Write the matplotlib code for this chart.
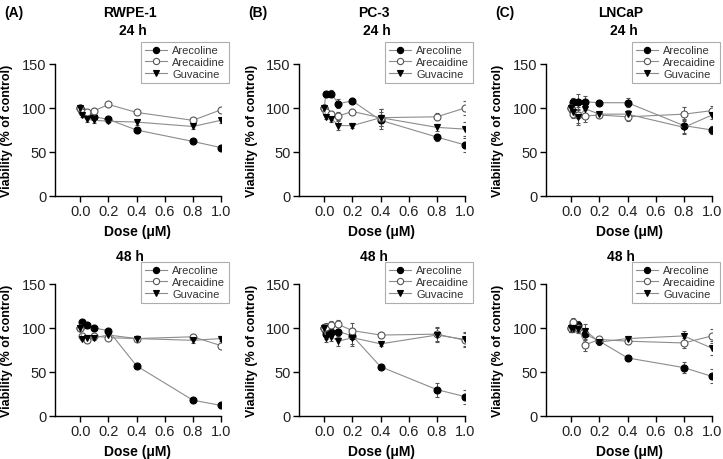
import numpy as np
import matplotlib
matplotlib.use("Agg")
import matplotlib.pyplot as plt
from matplotlib.lines import Line2D

plt.rcParams["font.family"] = ["Liberation Sans", "DejaVu Sans"]

# Doses (uM)
dose = [0.0, 0.01, 0.05, 0.1, 0.2, 0.4, 0.8, 1.0]

cells = ["RWPE-1", "PC-3", "LNCaP"]
letters = ["(A)", "(B)", "(C)"]
times = ["24 h", "48 h"]

# 24 h viability (% of control)
rwpe_24_arecoline = [100, 97, 92, 90, 87, 75, 62, 55]
rwpe_24_arecaidine = [100, 96, 95, 97, 104, 95, 86, 98]
rwpe_24_guvacine = [100, 92, 87, 86, 85, 84, 79, 86]

pc3_24_arecoline = [100, 116, 116, 105, 108, 86, 67, 58]
pc3_24_arecaidine = [100, 95, 93, 91, 96, 89, 90, 100]
pc3_24_guvacine = [100, 90, 88, 80, 80, 89, 78, 76]

lncap_24_arecoline = [100, 107, 107, 107, 106, 106, 80, 75]
lncap_24_arecaidine = [100, 93, 92, 91, 92, 90, 93, 97]
lncap_24_guvacine = [100, 96, 90, 99, 93, 93, 78, 92]

# 48 h viability (% of control)
rwpe_48_arecoline = [100, 107, 103, 100, 97, 57, 18, 12]
rwpe_48_arecaidine = [100, 91, 86, 91, 89, 88, 90, 80]
rwpe_48_guvacine = [100, 88, 89, 89, 92, 88, 86, 88]

pc3_48_arecoline = [100, 93, 95, 96, 91, 56, 30, 22]
pc3_48_arecaidine = [100, 101, 103, 104, 97, 92, 93, 86]
pc3_48_guvacine = [100, 89, 90, 85, 89, 82, 92, 87]

lncap_48_arecoline = [100, 101, 103, 93, 85, 66, 55, 45]
lncap_48_arecaidine = [100, 107, 100, 81, 87, 85, 83, 91]
lncap_48_guvacine = [100, 100, 99, 97, 84, 88, 91, 77]

# error bars (SD), rough reads
err_small = [2, 2, 3, 3, 2, 3, 3, 3]
err_pc3_24 = [3, 3, 4, 5, 3, 10, 4, 8]
err_lncap_24 = [4, 4, 9, 7, 3, 5, 8, 5]
err_lncap_48 = [5, 4, 5, 7, 3, 3, 6, 8]
err_pc3_48 = [4, 5, 5, 5, 9, 3, 8, 8]

data = {
    ("RWPE-1", "24 h"): (rwpe_24_arecoline, rwpe_24_arecaidine, rwpe_24_guvacine, err_small),
    ("PC-3", "24 h"): (pc3_24_arecoline, pc3_24_arecaidine, pc3_24_guvacine, err_pc3_24),
    ("LNCaP", "24 h"): (lncap_24_arecoline, lncap_24_arecaidine, lncap_24_guvacine, err_lncap_24),
    ("RWPE-1", "48 h"): (rwpe_48_arecoline, rwpe_48_arecaidine, rwpe_48_guvacine, err_small),
    ("PC-3", "48 h"): (pc3_48_arecoline, pc3_48_arecaidine, pc3_48_guvacine, err_pc3_48),
    ("LNCaP", "48 h"): (lncap_48_arecoline, lncap_48_arecaidine, lncap_48_guvacine, err_lncap_48),
}

fig = plt.figure(figsize=(7.23, 4.6), dpi=100)

lefts = [55, 299, 546]
width_px = 166
tops = [65, 285]
height_px = 132
W, H = 723, 460

line_col = "#8c8c8c"
styles = [
    dict(marker="o", mfc="black", mec="black", label="Arecoline"),
    dict(marker="o", mfc="white", mec="#555555", label="Arecaidine"),
    dict(marker="v", mfc="black", mec="black", label="Guvacine"),
]

for r, t in enumerate(times):
    for c, cell in enumerate(cells):
        ax = fig.add_axes([lefts[c] / W, 1 - (tops[r] + height_px) / H,
                           width_px / W, height_px / H])
        a, b, g, e = data[(cell, t)]
        for vals, st in zip([a, b, g], styles):
            ax.errorbar(dose, vals, yerr=e, color=line_col, lw=0.8,
                        marker=st["marker"], ms=5, mfc=st["mfc"], mec=st["mec"],
                        mew=0.8, ecolor="#555555", elinewidth=0.7, capsize=1.5,
                        label=st["label"], zorder=3)
        ax.set_xlim(-0.18, 1.0)
        ax.set_ylim(0, 150)
        ax.set_xticks([0.0, 0.2, 0.4, 0.6, 0.8, 1.0])
        ax.set_xticklabels(["0.0", "0.2", "0.4", "0.6", "0.8", "1.0"])
        ax.set_yticks([0, 50, 100, 150])
        ax.spines["top"].set_visible(False)
        ax.spines["right"].set_visible(False)
        ax.spines["left"].set_linewidth(1.0)
        ax.spines["bottom"].set_linewidth(1.0)
        ax.tick_params(direction="out", length=4, width=1.0, labelsize=10.5, pad=2)
        for lab in ax.get_xticklabels() + ax.get_yticklabels():
            lab.set_color("#222222")
        ax.set_ylabel("Viability (% of control)", fontsize=9, fontweight="bold")
        ax.yaxis.set_label_coords(-0.25, 0.5)
        ax.set_xlabel("Dose (\u03bcM)", fontsize=10, fontweight="bold", labelpad=4)

        handles = [Line2D([], [], color=line_col, lw=0.8, marker=st["marker"], ms=4.5,
                          mfc=st["mfc"], mec=st["mec"], mew=0.8) for st in styles]
        leg = ax.legend(handles, [st["label"] for st in styles], loc="upper right",
                        bbox_to_anchor=(1.05, 1.17), fontsize=8, frameon=True,
                        fancybox=False, borderpad=0.35, labelspacing=0.15,
                        handlelength=2.0, handletextpad=0.5, borderaxespad=0)
        leg.get_frame().set_edgecolor("#999999")
        leg.get_frame().set_linewidth(0.8)
        for txt in leg.get_texts():
            txt.set_color("#333333")

        cx = (lefts[c] + 75) / W
        if r == 0:
            fig.text((lefts[c] - 51) / W, 1 - 13 / H, letters[c], fontsize=10,
                     fontweight="bold", va="center", ha="left")
            fig.text(cx, 1 - 13 / H, cell, fontsize=10, fontweight="bold",
                     ha="center", va="center")
            fig.text(cx + 3 / W, 1 - 31 / H, t, fontsize=10, fontweight="bold",
                     ha="center", va="center")
        else:
            fig.text(cx, 1 - 257 / H, t, fontsize=10, fontweight="bold",
                     ha="center", va="center")

fig.savefig("out.png", dpi=100)
